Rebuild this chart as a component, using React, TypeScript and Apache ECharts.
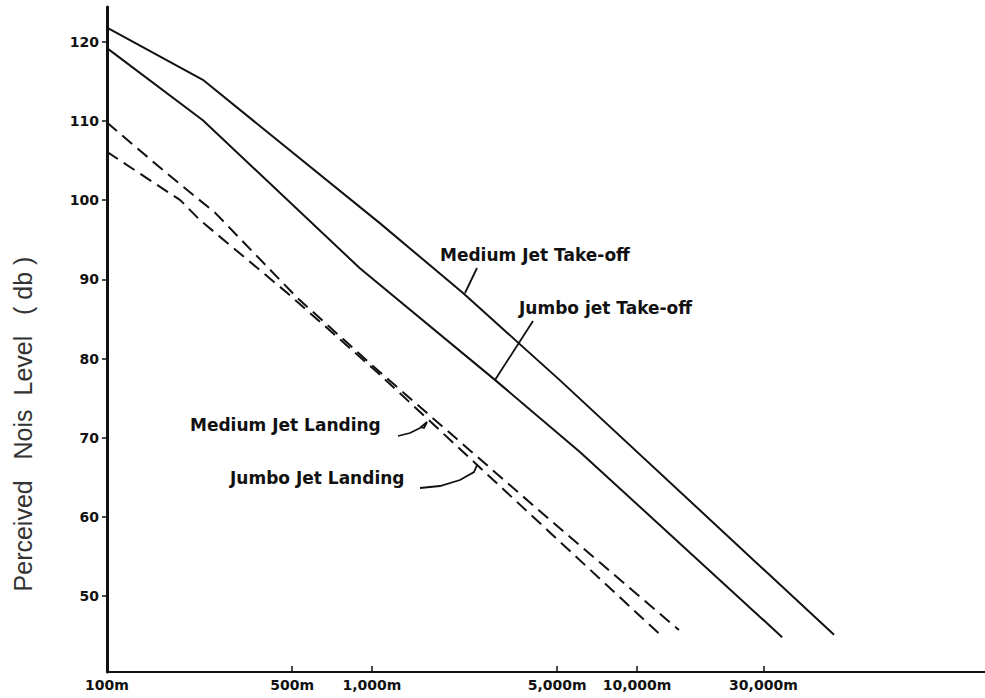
import React, { useEffect, useRef } from "react";
import * as echarts from "echarts";

// Distance (m) tick marks and labels on the x axis
const distanceTicks = [100, 500, 1000, 5000, 10000, 30000];
const distanceTickLabels = ["100m", "500m", "1,000m", "5,000m", "10,000m", "30,000m"];
// Perceived noise level tick marks (dB)
const levelTicks = [50, 60, 70, 80, 90, 100, 110, 120];

// Series: distance (m) and perceived noise level (dB)
const mediumTakeoffDist = [100, 230, 1070, 2200, 5100, 55400];
const mediumTakeoffLevel = [121.8, 115.2, 97.1, 88.3, 77.3, 45.1];

const jumboTakeoffDist = [100, 230, 900, 2910, 6090, 35300];
const jumboTakeoffLevel = [119.2, 110.1, 91.4, 77.3, 68.2, 44.8];

const mediumLandingDist = [100, 168, 256, 521, 1044, 4700, 14400];
const mediumLandingLevel = [109.8, 103.4, 98.4, 87.7, 78.6, 59.6, 45.7];

const jumboLandingDist = [100, 189, 224, 478, 1044, 4700, 12430];
const jumboLandingLevel = [106.1, 100.0, 97.5, 88.3, 78.3, 58.0, 44.9];

const seriesNames = [
  "Medium Jet Take-off",
  "Jumbo jet Take-off",
  "Medium Jet Landing",
  "Jumbo Jet Landing",
];

export default function App() {
  const ref = useRef<HTMLDivElement>(null);

  useEffect(() => {
    document.body.style.margin = "0";
    const chart = echarts.init(ref.current!, null, { renderer: "svg" });

    const toPts = (d: number[], v: number[]) => d.map((x, i) => [Math.log10(x), v[i]]);
    const tickLog = distanceTicks.map((d) => Math.log10(d));
    const fmtX = (val: number) => {
      const i = tickLog.findIndex((t) => Math.abs(t - val) < 1e-6);
      return i >= 0 ? distanceTickLabels[i] : "";
    };

    const ink = "#111";
    const labelFont = "DejaVu Sans";
    const annoText = (text: string, x: number, y: number) => ({
      type: "text",
      x,
      y,
      style: {
        text,
        fill: ink,
        font: `bold 17px "${labelFont}"`,
        textAlign: "left",
        textVerticalAlign: "middle",
      },
    });
    const leader = (points: number[][]) => ({
      type: "polyline",
      shape: { points },
      style: { stroke: ink, lineWidth: 1.8, fill: "none" },
    });

    const lineSeries = (name: string, d: number[], v: number[], dashed: boolean) => ({
      name,
      type: "line",
      data: toPts(d, v),
      symbol: "none",
      smooth: false,
      lineStyle: { color: ink, width: 2, type: dashed ? [13, 7] : "solid" },
      z: 3,
    });

    chart.setOption({
      animation: false,
      backgroundColor: "#fff",
      grid: { left: 107, right: 0, top: 7, bottom: 26 },
      xAxis: {
        type: "value",
        min: 2,
        max: 2 + 878 / 265,
        axisLine: { show: true, lineStyle: { color: ink, width: 2 } },
        axisTick: {
          show: true,
          inside: true,
          length: 6,
          customValues: tickLog,
          lineStyle: { color: ink, width: 1.5 },
        },
        axisLabel: {
          customValues: tickLog,
          formatter: fmtX,
          color: ink,
          fontFamily: labelFont,
          fontWeight: "bold",
          fontSize: 14,
          margin: 6,
        },
        splitLine: { show: false },
      },
      yAxis: {
        type: "value",
        min: 40.4,
        max: 124.4,
        axisLine: { show: true, lineStyle: { color: ink, width: 3 } },
        axisTick: {
          show: true,
          length: 5,
          customValues: levelTicks,
          lineStyle: { color: ink, width: 1.5 },
        },
        axisLabel: {
          customValues: levelTicks,
          color: ink,
          fontFamily: labelFont,
          fontWeight: "bold",
          fontSize: 14,
          margin: 8,
        },
        splitLine: { show: false },
      },
      series: [
        lineSeries(seriesNames[0], mediumTakeoffDist, mediumTakeoffLevel, false),
        lineSeries(seriesNames[1], jumboTakeoffDist, jumboTakeoffLevel, false),
        lineSeries(seriesNames[2], mediumLandingDist, mediumLandingLevel, true),
        lineSeries(seriesNames[3], jumboLandingDist, jumboLandingLevel, true),
      ],
      graphic: [
        {
          type: "text",
          x: 23,
          y: 424,
          rotation: Math.PI / 2,
          style: {
            text: "Perceived   Nois  Level   ( db )",
            fill: "#333",
            font: '25px "Liberation Sans"',
            textAlign: "center",
            textVerticalAlign: "middle",
          },
        },
        annoText(seriesNames[0], 440, 255),
        annoText(seriesNames[1], 519, 308),
        annoText(seriesNames[2], 190, 425),
        annoText(seriesNames[3], 230, 478),
        leader([[477, 268], [465, 293]]),
        leader([[533, 321], [495, 380]]),
        leader([[398, 436], [410, 433], [420, 428], [427, 422], [424, 428], [420, 427]]),
        leader([[420, 488], [440, 486], [460, 480], [474, 472], [477, 465]]),
      ],
    });

    return () => chart.dispose();
  }, []);

  return <div ref={ref} style={{ width: 985, height: 698 }} />;
}
